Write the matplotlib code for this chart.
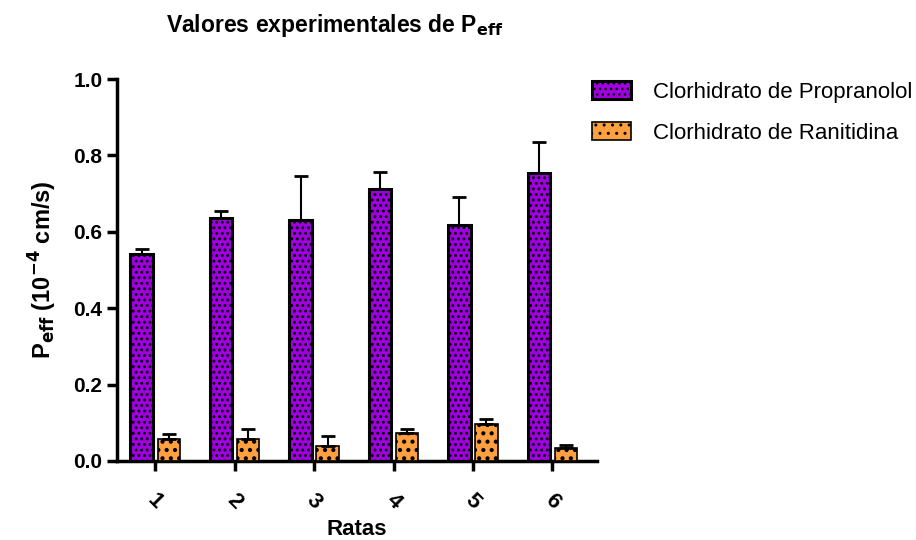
import numpy as np
import matplotlib.pyplot as plt

# Rats and permeability values (x 10^-4 cm/s), mean and upper SD
ratas = ['1', '2', '3', '4', '5', '6']
propranolol = [0.542, 0.636, 0.631, 0.712, 0.618, 0.754]
propranolol_err = [0.013, 0.018, 0.115, 0.045, 0.073, 0.081]
ranitidina = [0.058, 0.058, 0.040, 0.072, 0.097, 0.034]
ranitidina_err = [0.013, 0.026, 0.025, 0.011, 0.012, 0.008]

plt.rcParams['font.family'] = ['Liberation Sans', 'DejaVu Sans']

fig = plt.figure(figsize=(9.16, 5.4), dpi=100)
ax = fig.add_axes([0.1277, 0.1463, 0.524, 0.7074])

x = np.arange(1, len(ratas) + 1)
w = 0.28
off = 0.17
ekw = dict(ecolor='black', elinewidth=1.5, capsize=5, capthick=2)

with plt.rc_context({'hatch.linewidth': 1.3}):
    ax.bar(x - off, propranolol, w, color='#a000e0', edgecolor='black', linewidth=2.2,
           hatch='...', yerr=[np.zeros(6), propranolol_err], error_kw=ekw,
           label='Clorhidrato de Propranolol', zorder=3)
with plt.rc_context({'hatch.linewidth': 1.8}):
    ax.bar(x + off, ranitidina, w, color='#ffa040', edgecolor='black', linewidth=1.2,
           hatch='..', yerr=[np.zeros(6), ranitidina_err], error_kw=ekw,
           label='Clorhidrato de Ranitidina', zorder=3)

ax.set_xlim(0.52, 6.56)
ax.set_ylim(0, 1.0)
ax.set_yticks([0.0, 0.2, 0.4, 0.6, 0.8, 1.0])
ax.set_yticklabels(['0.0', '0.2', '0.4', '0.6', '0.8', '1.0'], fontsize=15, fontweight='bold')
ax.set_xticks(x)
ax.set_xticklabels(ratas, fontsize=16, fontweight='bold', rotation=-45, ha='center')

for s in ['top', 'right']:
    ax.spines[s].set_visible(False)
for s in ['left', 'bottom']:
    ax.spines[s].set_linewidth(2.5)
ax.tick_params(axis='both', width=2.5, length=7, direction='out')
ax.tick_params(axis='x', pad=14)

ax.set_xlabel('Ratas', fontsize=16, fontweight='bold', labelpad=4)
ax.set_ylabel('P$_{\\mathbf{eff}}$ (10$^{\\mathbf{-4}}$ cm/s)', fontsize=17, fontweight='bold', labelpad=10)

fig.text(0.365, 0.953, 'Valores experimentales de P$_{\\mathbf{eff}}$', fontsize=16.5,
         fontweight='bold', ha='center', va='center')

ax.legend(loc='upper left', bbox_to_anchor=(0.99, 0.995), frameon=False, fontsize=16,
          borderaxespad=0, borderpad=0, handlelength=1.75, handleheight=0.9,
          labelspacing=0.85, handletextpad=1.0)

fig.savefig('out.png', dpi=100)
